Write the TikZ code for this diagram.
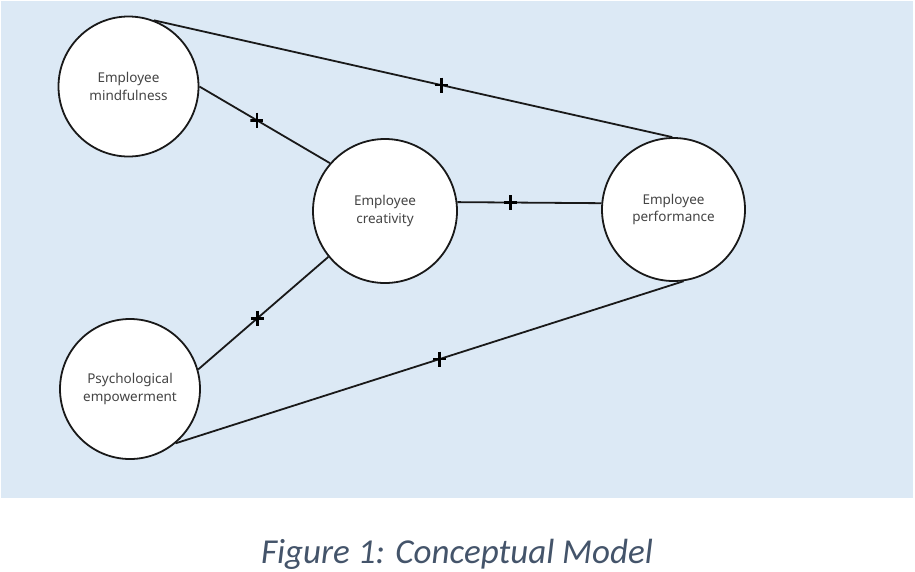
\documentclass[tikz,border=0pt]{standalone}
\usepackage{fontspec}
\setmainfont{Noto Sans}
\newfontfamily\capfont{Carlito}
\definecolor{bgblue}{HTML}{DCE9F5}
\definecolor{txtgray}{HTML}{454545}
\definecolor{capcol}{HTML}{44546A}
\tikzset{
  construct/.style={circle, draw=black!90, line width=1.8pt, fill=white, minimum size=#1, inner sep=0pt, align=center, font=\fontsize{13.5}{17.5}\selectfont, text=txtgray},
  link/.style={draw=black!90, line width=1.8pt},
  plusmark/.style={rectangle, inner sep=0pt, minimum width=13pt, minimum height=15pt,
    path picture={\draw[line width=2.6pt, black] (path picture bounding box.north) -- (path picture bounding box.south);
                  \draw[line width=2.6pt, black] (path picture bounding box.west) -- (path picture bounding box.east);}},
}
\begin{document}
\begin{tikzpicture}[x=1pt,y=-1pt]
\useasboundingbox (0,0) rectangle (915,571);
\fill[bgblue] (1,1) rectangle (913,498);
\node[construct=140pt] (mind) at (128.5,86.5) {Employee\\mindfulness};
\node[construct=144pt] (crea) at (385,211) {Employee\\creativity};
\node[construct=143pt] (perf) at (673.5,209.5) {Employee\\performance};
\node[construct=140pt] (emp) at (130,389) {Psychological\\empowerment};
\path[link] (mind.69.5) -- node[pos=0.555, plusmark] {} (perf.91);
\path[link] (mind.0) -- node[pos=0.44, plusmark] {} (crea.139);
\path[link] (crea.7) -- node[pos=0.37, plusmark] {} (perf.175);
\path[link] (emp.16) -- node[pos=0.455, plusmark] {} (crea.219);
\path[link] (emp.310) -- node[pos=0.52, plusmark] {} (perf.278);
\node[font=\capfont\itshape\fontsize{35}{35}\selectfont, text=capcol, anchor=base] (cap) at (457,563) {Figure 1: Conceptual Model};
\end{tikzpicture}
\end{document}
